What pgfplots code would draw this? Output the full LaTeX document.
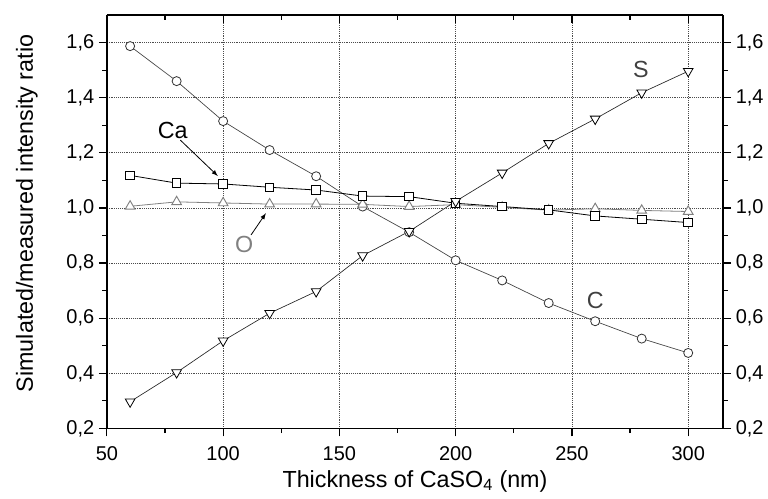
\documentclass[border=0pt]{standalone}
\usepackage{fontspec}
\setmainfont{Liberation Sans}
\usepackage{pgfplots}
\usepackage{pgfplotstable}
\pgfplotsset{compat=1.18}
\pgfplotstableread{
x C Ca O S
60 1.587 1.118 1.006 0.297
80 1.460 1.090 1.022 0.403
100 1.315 1.087 1.018 0.518
120 1.210 1.075 1.014 0.618
140 1.115 1.065 1.014 0.697
160 1.005 1.043 1.013 0.827
180 0.912 1.041 1.005 0.915
200 0.810 1.017 1.012 1.024
220 0.737 1.005 1.002 1.127
240 0.655 0.993 0.992 1.234
260 0.589 0.971 0.997 1.323
280 0.526 0.959 0.991 1.418
300 0.474 0.947 0.987 1.496
}\datatable
\definecolor{ogray}{gray}{0.5}
\definecolor{dgray}{gray}{0.25}
\begin{document}
\begin{tikzpicture}
\pgfplotsset{
  every axis/.append style={
    width=462.75pt, height=310.5pt, scale only axis,
    xmin=50, xmax=315, ymin=0.2, ymax=1.7,
    xtick={50,100,...,300}, ytick={0.2,0.4,...,1.61},
    minor x tick num=1, minor y tick num=1,
    axis line style={line width=1.1pt},
    major tick length=6pt, minor tick length=3.5pt,
    every tick/.style={black, line width=0.9pt},
    tick label style={font=\fontsize{15}{17}\selectfont},
    /pgf/number format/assume math mode=true,
    yticklabel style={/pgf/number format/.cd, use comma, fixed, fixed zerofill, precision=1},
    xticklabel style={yshift=-4pt, /pgf/number format/.cd, fixed, precision=0},
    at={(0,0)}, anchor=south west,
  }
}
% main axis
\begin{axis}[
  axis x line*=bottom, axis y line*=left,
  tick align=outside,
  xmajorgrids, ymajorgrids,
  major grid style={densely dotted, black!70, line width=0.5pt},
  xlabel={Thickness of CaSO\textsubscript{4} (nm)},
  ylabel={Simulated/measured intensity ratio},
  label style={font=\fontsize{17.5}{20}\selectfont},
  xlabel style={at={(axis description cs:0.5,-0.128)}, anchor=center},
  ylabel style={at={(axis description cs:-0.13,0.52)}, anchor=center},
  clip=false,
]
\addplot[black!75, line width=0.5pt, mark=*, mark size=3.4pt, mark options={fill=white, draw=black!80, line width=0.6pt}] table[x=x,y=C] {\datatable};
\addplot[ogray, line width=0.6pt, mark=triangle*, mark size=4.2pt, mark options={fill=white, draw=ogray, line width=0.7pt}] table[x=x,y=O] {\datatable};
\addplot[black, line width=0.6pt, mark=square*, mark size=3.2pt, mark options={fill=white, draw=black, line width=0.7pt}] table[x=x,y=Ca] {\datatable};
\addplot[black!85, line width=0.5pt, mark=triangle*, mark size=4.2pt, mark options={fill=white, draw=black, line width=0.6pt, rotate=180}] table[x=x,y=S] {\datatable};
\node[dgray, font=\fontsize{17.5}{20}\selectfont] at (axis cs:279.7,1.503) {S};
\node[dgray, font=\fontsize{17.5}{20}\selectfont] at (axis cs:260,0.664) {C};
\node[black, font=\fontsize{17.5}{20}\selectfont] at (axis cs:78.3,1.282) {Ca};
\node[ogray, font=\fontsize{17.5}{20}\selectfont] at (axis cs:109.1,0.866) {O};
\draw[-latex, black, line width=0.6pt] (axis cs:81.6,1.246) -- (axis cs:97.7,1.116);
\draw[-latex, black, line width=0.6pt] (axis cs:112,0.902) -- (axis cs:118.4,0.981);
\end{axis}
% top axis, ticks inside
\begin{axis}[
  axis x line*=top, axis y line=none,
  tick align=inside, xticklabels={},
]
\end{axis}
% right axis, labels
\begin{axis}[
  axis y line*=right, axis x line=none,
  tick align=outside, yticklabel pos=right,
]
\end{axis}
\useasboundingbox (-80.25pt,-52.5pt) rectangle (495.75pt,321.75pt);
\end{tikzpicture}
\end{document}
